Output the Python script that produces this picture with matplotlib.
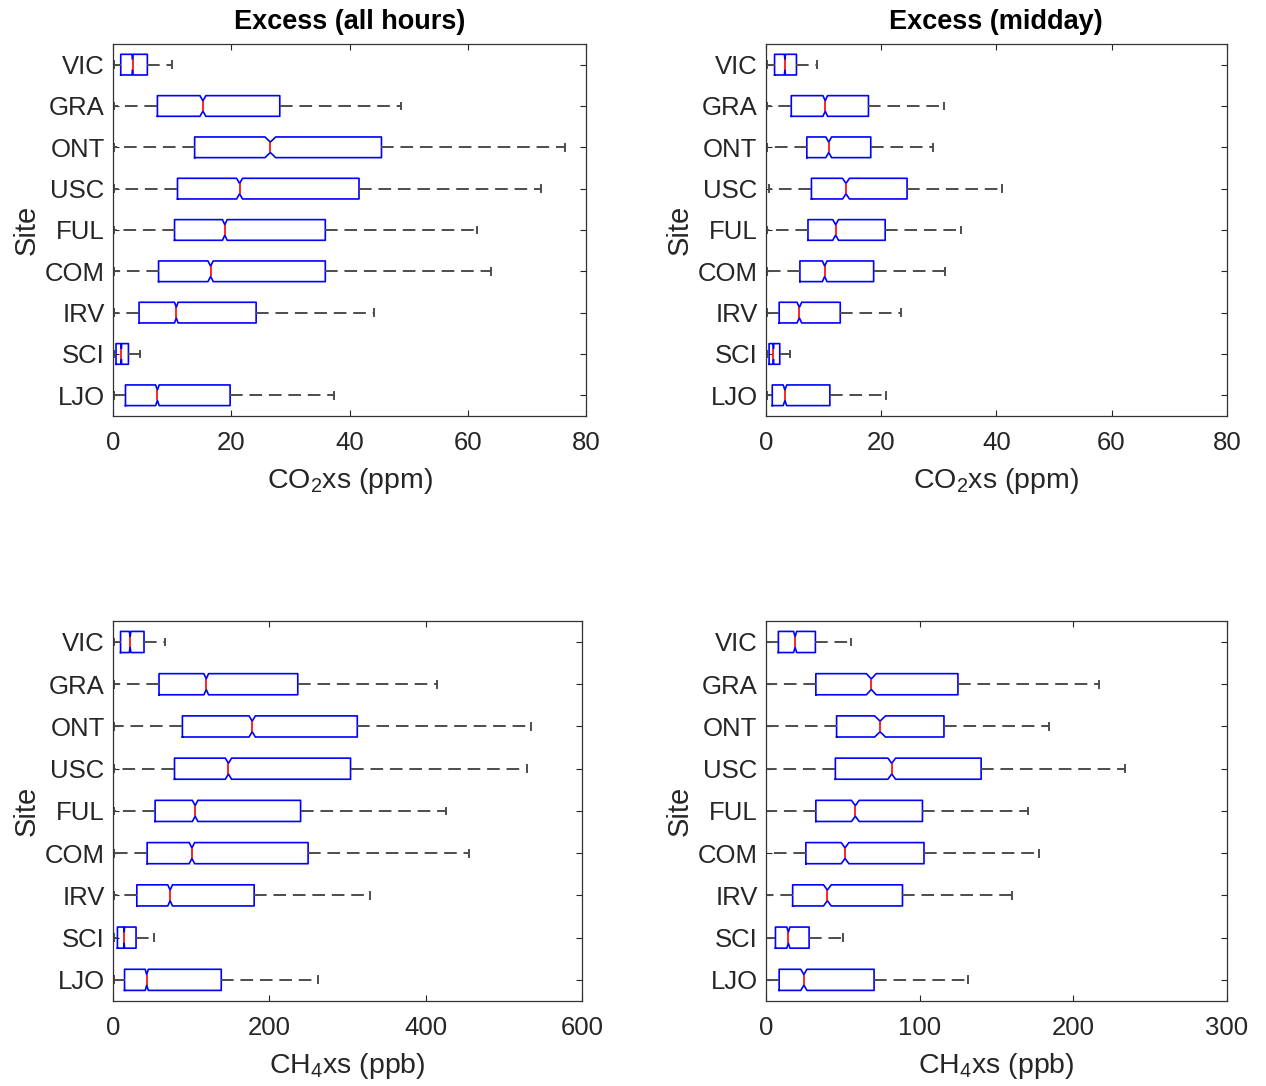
import matplotlib
matplotlib.use("Agg")
import matplotlib.pyplot as plt

plt.rcParams['font.family'] = ['Liberation Sans', 'DejaVu Sans']
plt.rcParams['mathtext.fontset'] = 'custom'
plt.rcParams['mathtext.rm'] = 'Liberation Sans'
plt.rcParams['mathtext.it'] = 'Liberation Sans'

# sites, top to bottom as shown
sites = ['VIC', 'GRA', 'ONT', 'USC', 'FUL', 'COM', 'IRV', 'SCI', 'LJO']

# CO2 excess, all hours (ppm)
co2_all_lo = [0.1, 0.1, 0.1, 0.1, 0.1, 0.1, 0.1, 0.1, 0.1]
co2_all_q1 = [1.3, 7.5, 13.8, 10.9, 10.4, 7.7, 4.4, 0.5, 2.1]
co2_all_med = [3.3, 15.2, 26.6, 21.4, 18.9, 16.5, 10.7, 1.4, 7.5]
co2_all_q3 = [5.8, 28.2, 45.4, 41.6, 35.9, 35.9, 24.2, 2.6, 19.8]
co2_all_hi = [10.0, 48.7, 76.5, 72.3, 61.5, 64.0, 44.1, 4.5, 37.4]
co2_all_notch = [0.1, 0.5, 0.9, 0.5, 0.4, 0.45, 0.3, 0.05, 0.3]

# CO2 excess, midday (ppm)
co2_mid_lo = [0.1, 0.1, 0.1, 0.6, 0.1, 0.1, 0.1, 0.1, 0.1]
co2_mid_q1 = [1.5, 4.4, 7.1, 7.9, 7.3, 5.9, 2.3, 0.55, 1.1]
co2_mid_med = [3.3, 10.3, 10.9, 13.9, 12.1, 10.2, 5.8, 1.3, 3.3]
co2_mid_q3 = [5.3, 17.8, 18.2, 24.5, 20.7, 18.7, 12.9, 2.4, 11.1]
co2_mid_hi = [8.9, 30.9, 29.0, 41.0, 33.9, 31.1, 23.5, 4.2, 20.9]
co2_mid_notch = [0.1, 0.4, 0.5, 0.6, 0.5, 0.4, 0.4, 0.05, 0.3]

# CH4 excess, all hours (ppb)
ch4_all_lo = [1.0, 1.0, 1.0, 1.0, 1.0, 1.0, 1.0, 1.0, 1.0]
ch4_all_q1 = [9.6, 58.8, 88.7, 78.6, 53.8, 43.6, 30.4, 5.6, 14.7]
ch4_all_med = [21.8, 119.2, 178.0, 147.6, 105.0, 100.9, 73.0, 14.2, 43.1]
ch4_all_q3 = [39.6, 236.3, 312.4, 303.8, 239.9, 249.5, 180.5, 29.4, 138.4]
ch4_all_hi = [67.0, 413.8, 535.0, 528.9, 426.0, 455.4, 329.1, 52.2, 262.2]
ch4_all_notch = [1.0, 3.0, 4.0, 4.0, 3.5, 3.5, 3.0, 0.5, 2.0]

# CH4 excess, midday (ppb)
ch4_mid_lo = [0.3, 0.3, 0.3, 0.3, 0.3, 0.3, 0.3, 0.3, 0.3]
ch4_mid_q1 = [8.1, 32.5, 46.0, 45.2, 32.5, 26.0, 17.4, 6.2, 8.6]
ch4_mid_med = [19.0, 68.6, 74.3, 81.9, 58.2, 51.5, 40.0, 14.6, 24.7]
ch4_mid_q3 = [32.2, 125.0, 115.9, 140.1, 101.9, 102.9, 88.9, 28.1, 70.4]
ch4_mid_hi = [55.6, 216.8, 184.0, 233.9, 170.5, 177.5, 160.1, 50.2, 131.5]
ch4_mid_notch = [1.0, 3.2, 3.5, 2.5, 2.5, 2.5, 2.5, 1.0, 2.0]


def make_stats(lo, q1, med, q3, hi, notch):
    out = []
    for i in range(len(sites)):
        out.append(dict(whislo=lo[i], q1=q1[i], med=med[i], q3=q3[i], whishi=hi[i],
                        cilo=med[i] - notch[i], cihi=med[i] + notch[i], fliers=[]))
    return out


def draw(ax, stats, xmax, xticks, xlabel, title=None):
    pos = list(range(len(sites), 0, -1))
    ax.bxp(stats, positions=pos, widths=0.5, capwidths=0.16, orientation='horizontal',
           shownotches=True, showfliers=False,
           boxprops=dict(color='#0000ff', lw=1.2),
           medianprops=dict(color='#ff0000', lw=1.2),
           whiskerprops=dict(color='#4d4d4d', lw=1.4, linestyle=(0, (6.5, 3.5))),
           capprops=dict(color='#4d4d4d', lw=1.4))
    ax.set_xlim(0, xmax)
    ax.set_ylim(0.5, len(sites) + 0.5)
    ax.set_xticks(xticks)
    ax.set_yticks(pos)
    ax.set_yticklabels(sites)
    ax.tick_params(direction='in', top=True, right=True, length=4, width=0.8,
                   labelsize=18.5, colors='#262626')
    ax.tick_params(axis='x', pad=11)
    ax.tick_params(axis='y', pad=6)
    for s in ax.spines.values():
        s.set_color('#333333')
        s.set_linewidth(0.9)
    ax.set_xlabel(xlabel, fontsize=20.5, color='#262626', labelpad=8)
    ax.set_ylabel('Site', fontsize=21, color='#262626', labelpad=3)
    if title:
        ax.set_title(title, fontsize=19.5, fontweight='bold', pad=11)


fig = plt.figure(figsize=(12.66, 10.86), dpi=100)
ax1 = fig.add_axes([0.0893, 0.617, 0.3736, 0.3425])
ax2 = fig.add_axes([0.605, 0.617, 0.364, 0.3425])
ax3 = fig.add_axes([0.0893, 0.0783, 0.3705, 0.35])
ax4 = fig.add_axes([0.605, 0.0783, 0.364, 0.35])

draw(ax1, make_stats(co2_all_lo, co2_all_q1, co2_all_med, co2_all_q3, co2_all_hi, co2_all_notch),
     80, [0, 20, 40, 60, 80], r'CO$_2$xs (ppm)', 'Excess (all hours)')
draw(ax2, make_stats(co2_mid_lo, co2_mid_q1, co2_mid_med, co2_mid_q3, co2_mid_hi, co2_mid_notch),
     80, [0, 20, 40, 60, 80], r'CO$_2$xs (ppm)', 'Excess (midday)')
draw(ax3, make_stats(ch4_all_lo, ch4_all_q1, ch4_all_med, ch4_all_q3, ch4_all_hi, ch4_all_notch),
     600, [0, 200, 400, 600], r'CH$_4$xs (ppb)')
draw(ax4, make_stats(ch4_mid_lo, ch4_mid_q1, ch4_mid_med, ch4_mid_q3, ch4_mid_hi, ch4_mid_notch),
     300, [0, 100, 200, 300], r'CH$_4$xs (ppb)')

fig.savefig('out.png', dpi=100, facecolor='white')
